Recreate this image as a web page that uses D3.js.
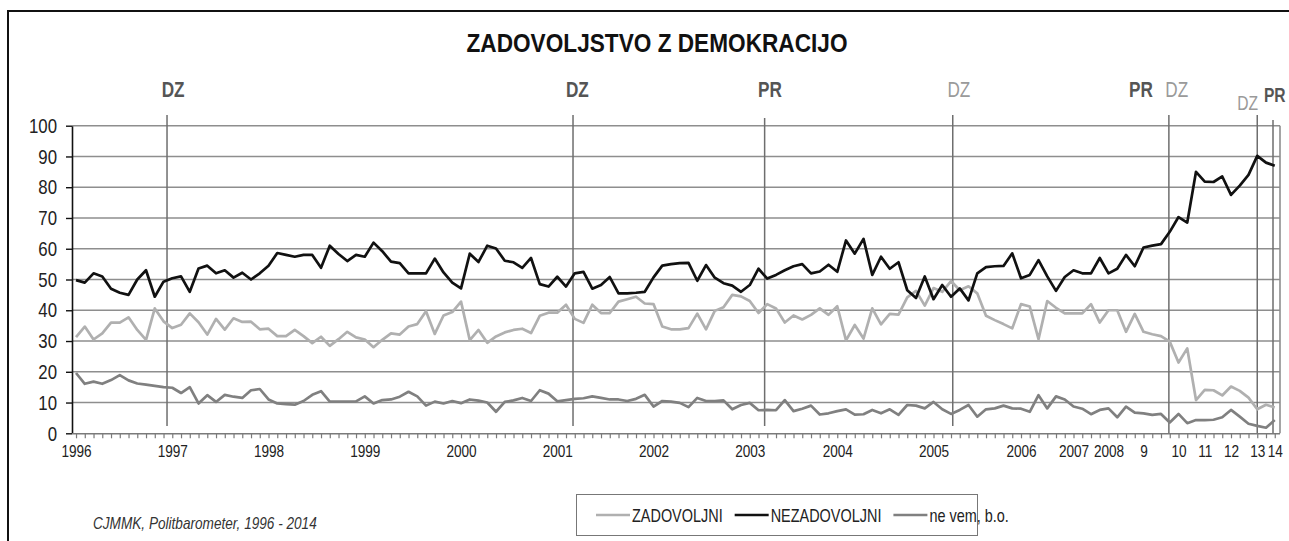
<!DOCTYPE html>
<html lang="sl">
<head>
<meta charset="UTF-8">
<title>Zadovoljstvo z demokracijo</title>
<script src="https://cdn.jsdelivr.net/npm/d3@7"></script>
<style>
  body { margin: 0; background: #fff; }
  svg text { font-family: "Liberation Sans Narrow", "Arial Narrow", "Liberation Sans", sans-serif; fill: #222; }
</style>
</head>
<body>
<div id="chart"></div>
<script>
// one value per Politbarometer survey, 1996 - 2014
var zadovoljni = [
  31.3, 34.7, 30.5, 32.5, 36, 36, 37.7, 33.6, 30.4, 40.6,
  36.4, 34.2, 35.3, 39, 36.1, 32.1, 37.2, 33.7, 37.4, 36.2,
  36.3, 33.8, 34, 31.6, 31.6, 33.6, 31.6, 29.3, 31.4, 28.4,
  30.6, 33, 31.2, 30.5, 28, 30.4, 32.5, 32.1, 34.7, 35.5,
  39.7, 32.3, 38.3, 39.4, 42.8, 30.3, 33.6, 29.4, 31.5, 32.8,
  33.6, 34, 32.6, 38.2, 39.2, 39.2, 41.8, 37.2, 35.9, 41.8,
  39.1, 39.1, 42.8, 43.6, 44.4, 42.2, 42, 34.7, 33.8, 33.8,
  34.2, 38.9, 33.8, 39.8, 41, 45, 44.5, 43, 39.1, 42,
  40.6, 36, 38.3, 37, 38.5, 40.6, 38.5, 41.3, 30.2, 35.2,
  30.8, 40.6, 35.4, 38.8, 38.6, 44.2, 46.3, 41.5, 47.2, 46,
  49.5, 46.5, 47.8, 45.5, 38.2, 36.8, 35.5, 34.1, 42, 41.2,
  30.6, 43, 40.8, 39, 39, 39, 42, 36, 40, 40,
  33, 38.8, 33, 32.2, 31.6, 29.8, 23, 27.6, 10.8, 14.1,
  14, 12.3, 15.2, 13.8, 11.6, 7.8, 9.3, 8.4
];
var nezadovoljni = [
  49.8, 49, 52, 51, 47, 45.7, 45, 50, 53, 44.4,
  49.3, 50.4, 51, 46, 53.6, 54.5, 52, 53, 50.6, 52.2,
  50, 52, 54.5, 58.6, 58, 57.4, 58, 58, 53.8, 61,
  58.3, 56, 58, 57.4, 62, 59.2, 55.8, 55.3, 52, 52,
  52, 56.8, 52.3, 49, 47.1, 58.4, 55.7, 61, 60.1, 56.1,
  55.6, 53.8, 57, 48.5, 47.7, 50.9, 47.7, 52, 52.5, 47,
  48.2, 50.8, 45.5, 45.5, 45.7, 46, 50.7, 54.5, 55, 55.3,
  55.4, 49.6, 54.7, 50.6, 48.8, 48, 46, 48.2, 53.5, 50.3,
  51.5, 53, 54.3, 55, 52, 52.6, 54.8, 52.5, 62.7, 58.4,
  63.2, 51.5, 57.4, 53.5, 55.6, 46.5, 44, 51, 43.6, 48.2,
  44.4, 47.1, 43.2, 52, 54, 54.3, 54.4, 58.5, 50.4, 51.5,
  56.3, 51, 46.3, 50.8, 53, 52, 52, 57, 52, 53.5,
  58, 54.3, 60.4, 61, 61.5, 65.5, 70.3, 68.5, 85, 81.8,
  81.7, 83.5, 77.5, 80.5, 84, 90.2, 88, 87
];
var neVem = [
  19.6, 16.1, 16.8, 16.1, 17.3, 18.9, 17.2, 16.2, 15.8, 15.4,
  15, 14.8, 13.1, 15, 9.7, 12.4, 10.2, 12.5, 11.9, 11.5,
  14, 14.4, 11, 9.7, 9.5, 9.3, 10.5, 12.5, 13.7, 10.3,
  10.3, 10.3, 10.4, 12, 9.7, 10.8, 11, 11.9, 13.5, 12,
  9, 10.3, 9.7, 10.5, 9.8, 11, 10.6, 10, 7, 10.2,
  10.7, 11.5, 10.5, 14, 12.9, 10.4, 10.8, 11.2, 11.4, 12,
  11.5, 11, 11, 10.5, 11.2, 12.5, 8.7, 10.5, 10.3, 9.9,
  8.5, 11.5, 10.5, 10.5, 10.7, 7.8, 9.2, 9.9, 7.5, 7.6,
  7.5, 10.8, 7.2, 8, 9, 6.1, 6.5, 7.2, 7.8, 6.1,
  6.2, 7.6, 6.5, 7.8, 6, 9.2, 9, 8.1, 10.2, 7.8,
  6.3, 7.6, 9.2, 5.4, 7.8, 8.1, 9, 8.1, 8, 7,
  12.4, 8.1, 12, 11, 8.7, 8, 6.2, 7.6, 8.1, 5.2,
  8.7, 6.7, 6.5, 6, 6.3, 3.5, 6.3, 3.3, 4.3, 4.3,
  4.4, 5.2, 7.6, 5.4, 3.1, 2.4, 1.8, 4.3
];

// axis labels and the survey each one sits under
var yearLabels = ["1996","1997","1998","1999","2000","2001","2002","2003","2004","2005",
                  "2006","2007","2008","9","10","11","12","13","14"];
var yearIndex  = [0, 11, 22, 33, 44, 55, 66, 77, 87, 98, 108, 114, 118, 122, 126, 129, 132, 135, 137];

// elections (DZ = parliament, PR = president), in survey units
var electionLines = [10.4, 56.8, 78.7, 100.2, 124.9, 135.0, 136.8];
var electionLabels = ["DZ", "DZ", "PR", "DZ", "PR", "DZ", "DZ", "PR"];
var electionLabelPos = [11.1, 57.3, 79.3, 100.9, 121.7, 125.8, 133.9, 137.0];

var yTicks = d3.range(0, 101, 10);

var series = [
  { name: "ZADOVOLJNI", values: zadovoljni, color: "#b0b0b0" },
  { name: "NEZADOVOLJNI", values: nezadovoljni, color: "#111" },
  { name: "ne vem, b.o.", values: neVem, color: "#808080" }
];

var width = 1289, height = 541;

// no narrow font installed: squeeze the glyphs instead
function narrow(sel, f) {
    sel.each(function() {
        var w = this.getComputedTextLength();
        d3.select(this).attr("textLength", w * (f || 0.8)).attr("lengthAdjust", "spacingAndGlyphs");
    });
}

var svg = d3.select("#chart").append("svg")
    .attr("width", width)
    .attr("height", height);

// outer frame (cut off on the right and bottom like the scan)
svg.append("path")
    .attr("d", "M8," + height + "V11H" + width)
    .attr("fill", "none")
    .attr("stroke", "#111")
    .attr("stroke-width", 2);

var x = d3.scaleLinear().domain([-0.46, 137.6]).range([72, 1280]);
var y = d3.scaleLinear().domain([0, 100]).range([433.3, 125.7]);

svg.append("text")
    .attr("x", 657)
    .attr("y", 52)
    .attr("text-anchor", "middle")
    .attr("font-size", 26)
    .attr("font-weight", "bold")
    .attr("textLength", 381)
    .attr("lengthAdjust", "spacingAndGlyphs")
    .style("fill", "#111")
    .text("ZADOVOLJSTVO Z DEMOKRACIJO");

// horizontal grid
svg.append("g")
    .selectAll("line")
    .data(yTicks.filter(function(d) { return d > 0; }))
    .enter().append("line")
    .attr("x1", x.range()[0]).attr("x2", x.range()[1])
    .attr("y1", function(d) { return y(d); })
    .attr("y2", function(d) { return y(d); })
    .attr("stroke", "#8e8e8e")
    .attr("stroke-width", 1.6);

// right edge of plot area
svg.append("line")
    .attr("x1", 1280).attr("x2", 1280)
    .attr("y1", y(100)).attr("y2", y(0))
    .attr("stroke", "#8e8e8e")
    .attr("stroke-width", 1.6);

// election markers
svg.append("g")
    .selectAll("line")
    .data(electionLines)
    .enter().append("line")
    .attr("x1", function(d) { return x(d); })
    .attr("x2", function(d) { return x(d); })
    .attr("y1", function(d, i) { return i == 2 ? 118 : (i == 6 ? 120 : 115); })
    .attr("y2", function(d, i) { return i >= 4 ? y(0) : 426; })
    .attr("stroke", "#6e6e6e")
    .attr("stroke-width", 1.5);

var faded = [3, 5, 6];
svg.append("g")
    .selectAll("text")
    .data(electionLabels)
    .enter().append("text")
    .attr("x", function(d, i) { return x(electionLabelPos[i]); })
    .attr("y", function(d, i) { return i == 6 ? 110 : (i == 7 ? 102 : 97); })
    .attr("text-anchor", "middle")
    .attr("font-size", function(d, i) { return i >= 6 ? 20 : 22; })
    .attr("font-weight", function(d, i) { return faded.indexOf(i) >= 0 ? "normal" : "bold"; })
    .style("fill", function(d, i) { return faded.indexOf(i) >= 0 ? "#9a9a9a" : "#555"; })
    .text(function(d) { return d; })
    .call(narrow, 0.78);

// y axis
var yAxis = svg.append("g")
    .attr("transform", "translate(72,0)")
    .call(d3.axisLeft(y).tickValues(yTicks).tickSize(6).tickSizeOuter(0).tickPadding(9));
yAxis.select(".domain").attr("stroke", "#111").attr("stroke-width", 1.6);
yAxis.selectAll(".tick line").attr("stroke", "#111").attr("stroke-width", 1.4);
yAxis.selectAll(".tick text").attr("font-size", 21);

// x axis: a tick for every survey, labels only at years
var xAxis = svg.append("g")
    .attr("transform", "translate(0," + y(0) + ")")
    .call(d3.axisBottom(x)
        .tickValues(d3.range(0, nezadovoljni.length))
        .tickSize(5)
        .tickSizeOuter(0)
        .tickFormat(function(d) {
            var k = yearIndex.indexOf(d);
            return k >= 0 ? yearLabels[k] : "";
        }));
xAxis.select(".domain").attr("stroke", "#7a7a7a").attr("stroke-width", 1.6)
    .attr("d", "M72,0.5H1280");
xAxis.selectAll(".tick line").attr("stroke", "#7a7a7a").attr("stroke-width", 1.2);
xAxis.selectAll(".tick text").attr("font-size", 17).attr("dy", "0.9em");
svg.selectAll(".tick text").attr("font-family", null)
    .filter(function() { return this.textContent != ""; })
    .call(narrow, 0.8);

// series lines
var line = d3.line()
    .x(function(d, i) { return x(i); })
    .y(function(d) { return y(d); });

svg.append("g")
    .selectAll("path")
    .data(series)
    .enter().append("path")
    .attr("d", function(d) { return line(d.values); })
    .attr("fill", "none")
    .attr("stroke", function(d) { return d.color; })
    .attr("stroke-width", 2.7)
    .attr("stroke-linejoin", "round");

// legend
var legend = svg.append("g");
legend.append("rect")
    .attr("x", 576.5).attr("y", 494.5)
    .attr("width", 401).attr("height", 41)
    .attr("fill", "#fff")
    .attr("stroke", "#777");

var lx = 596;
series.forEach(function(s) {
    legend.append("line")
        .attr("x1", lx).attr("x2", lx + 34)
        .attr("y1", 515).attr("y2", 515)
        .attr("stroke", s.color)
        .attr("stroke-width", 2.7);
    var t = legend.append("text")
        .attr("x", lx + 36)
        .attr("y", 522)
        .attr("font-size", 19)
        .text(s.name)
        .call(narrow, 0.76);
    lx += 36 + (+t.attr("textLength")) + 12;
});

svg.append("text")
    .attr("x", 93)
    .attr("y", 529)
    .attr("font-size", 17)
    .attr("font-style", "italic")
    .style("fill", "#333")
    .text("CJMMK, Politbarometer, 1996 - 2014")
    .call(narrow, 0.8);
</script>
</body>
</html>
